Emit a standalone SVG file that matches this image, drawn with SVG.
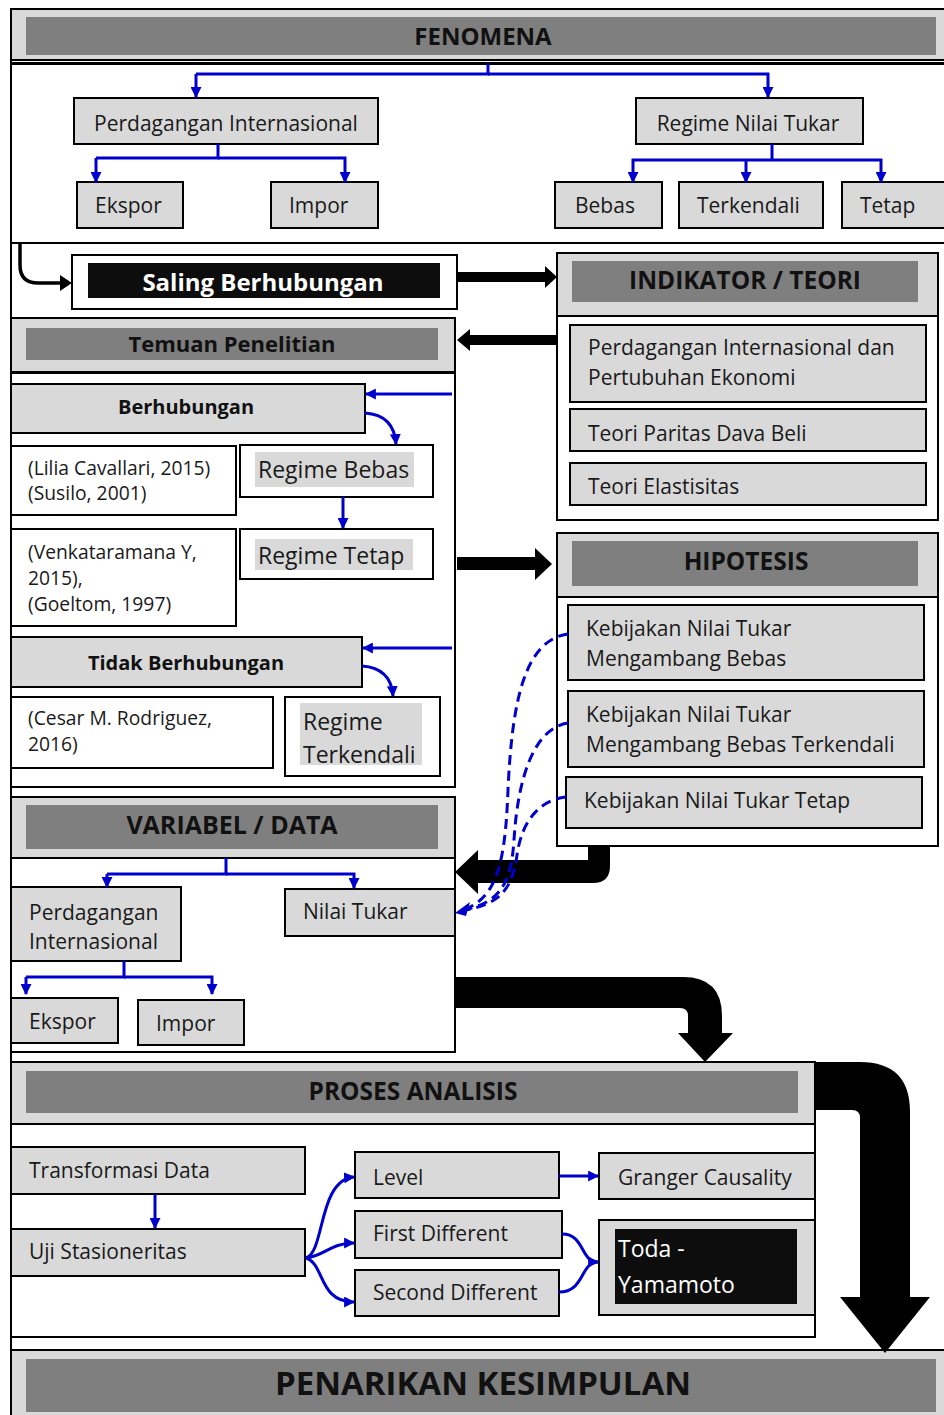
<svg xmlns="http://www.w3.org/2000/svg" width="944" height="1415" viewBox="0 0 944 1415">
<defs>
<style>
.hdr{fill:#d9d9d9;stroke:#000;stroke-width:2}
.bar{fill:#7f7f7f}
.body{fill:#fff;stroke:#000;stroke-width:2}
.box{fill:#d9d9d9;stroke:#000;stroke-width:2}
.wbox{fill:#fff;stroke:#000;stroke-width:2}
.hl{fill:#d9d9d9}
.t{font-family:"Open Sans","Noto Sans",sans-serif;font-size:21px;fill:#1a1a1a}
.c{font-family:"Open Sans","Noto Sans",sans-serif;font-size:19.3px;fill:#1a1a1a}
.big{font-family:"Open Sans","Noto Sans",sans-serif;font-size:23px;fill:#1a1a1a}
.ttl{font-family:"Open Sans","Noto Sans",sans-serif;font-size:24.5px;font-weight:bold;fill:#111;text-anchor:middle}
.sub{font-family:"Open Sans","Noto Sans",sans-serif;font-size:20px;font-weight:bold;fill:#111;text-anchor:middle}
.m{text-anchor:middle}
.bl{fill:none;stroke:#0000cc;stroke-width:3;marker-end:url(#ah)}
.bln{fill:none;stroke:#0000cc;stroke-width:3}
.dash{fill:none;stroke:#0000cc;stroke-width:3;stroke-dasharray:10 6}
.blk{fill:#000}
</style>
<marker id="ah" viewBox="0 0 10 10" refX="9" refY="5" markerWidth="11" markerHeight="11" markerUnits="userSpaceOnUse" orient="auto">
<path d="M0,0 L10,5 L0,10 z" fill="#0000cc"/>
</marker>
</defs>

<!-- main frame left border -->
<line x1="11" y1="9" x2="11" y2="1415" stroke="#000" stroke-width="2"/>

<g id="fenomena">
<rect class="hdr" x="11" y="9" width="940" height="51"/>
<rect class="bar" x="26" y="17" width="910" height="38"/>
<text class="ttl" x="483" y="45" style="font-size:24px">FENOMENA</text>
<line x1="11" y1="63" x2="944" y2="63" stroke="#000" stroke-width="2"/>
<rect class="body" x="11" y="64" width="940" height="179"/>
</g>

<g id="perdagangan">
<rect class="box" x="74" y="98" width="304" height="46"/>
<text class="t m" x="226" y="131">Perdagangan Internasional</text>
</g>
<g id="ekspor1"><rect class="box" x="77" y="182" width="106" height="46"/><text class="t" x="95" y="213">Ekspor</text></g>
<g id="impor1"><rect class="box" x="271" y="182" width="107" height="46"/><text class="t" x="289" y="213">Impor</text></g>
<g id="regime"><rect class="box" x="636" y="98" width="227" height="46"/><text class="t m" x="748" y="131">Regime Nilai Tukar</text></g>
<g id="bebas"><rect class="box" x="555" y="182" width="107" height="46"/><text class="t" x="575" y="213">Bebas</text></g>
<g id="terkendali"><rect class="box" x="679" y="182" width="144" height="46"/><text class="t" x="697" y="213">Terkendali</text></g>
<g id="tetap"><rect class="box" x="842" y="182" width="110" height="46"/><text class="t" x="860" y="213">Tetap</text></g>

<g id="saling">
<rect class="wbox" x="72" y="255" width="385" height="54"/>
<rect fill="#0d0d0d" x="88" y="263" width="352" height="35"/>
<text class="ttl" x="263" y="291" style="fill:#fff;font-size:24px">Saling Berhubungan</text>
</g>

<g id="indikator">
<rect class="hdr" x="557" y="253" width="381" height="63"/>
<rect class="bar" x="572" y="261" width="346" height="41"/>
<text class="ttl" x="745" y="289">INDIKATOR / TEORI</text>
<rect class="body" x="557" y="316" width="381" height="204"/>
</g>
<g id="teori1"><rect class="box" x="570" y="325" width="356" height="77"/>
<text class="t" x="588" y="355">Perdagangan Internasional dan</text>
<text class="t" x="588" y="385">Pertubuhan Ekonomi</text></g>
<g id="teori2"><rect class="box" x="570" y="409" width="356" height="42"/><text class="t" x="588" y="441">Teori Paritas Dava Beli</text></g>
<g id="teori3"><rect class="box" x="570" y="463" width="356" height="42"/><text class="t" x="588" y="494">Teori Elastisitas</text></g>

<g id="temuan">
<rect class="hdr" x="11" y="318" width="444" height="54"/>
<rect class="bar" x="26" y="328" width="412" height="32"/>
<text class="ttl" x="232" y="352" style="font-size:22px">Temuan Penelitian</text>
<rect class="body" x="11" y="373" width="444" height="414"/>
</g>
<g id="berhubungan"><rect class="box" x="11" y="384" width="354" height="49"/><text class="sub" x="186" y="414">Berhubungan</text></g>
<g id="cit1"><rect class="wbox" x="11" y="446" width="225" height="69"/>
<text class="c" x="28" y="475">(Lilia Cavallari, 2015)</text>
<text class="c" x="28" y="500">(Susilo, 2001)</text></g>
<g id="regimebebas"><rect class="wbox" x="240" y="445" width="193" height="52"/><rect class="hl" x="255" y="452" width="159" height="35"/><text class="big" x="258" y="478">Regime Bebas</text></g>
<g id="cit2"><rect class="wbox" x="11" y="529" width="225" height="97"/>
<text class="c" x="28" y="559">(Venkataramana Y,</text>
<text class="c" x="28" y="585">2015),</text>
<text class="c" x="28" y="611">(Goeltom, 1997)</text></g>
<g id="regimetetap"><rect class="wbox" x="240" y="529" width="193" height="50"/><rect class="hl" x="255" y="539" width="158" height="31"/><text class="big" x="258" y="564">Regime Tetap</text></g>
<g id="tidak"><rect class="box" x="11" y="637" width="351" height="50"/><text class="sub" x="186" y="670">Tidak Berhubungan</text></g>
<g id="cit3"><rect class="wbox" x="11" y="697" width="262" height="71"/>
<text class="c" x="28" y="725">(Cesar M. Rodriguez,</text>
<text class="c" x="28" y="751">2016)</text></g>
<g id="regimeterkendali"><rect class="wbox" x="285" y="697" width="155" height="79"/><rect class="hl" x="300" y="703" width="122" height="62"/>
<text class="big" x="303" y="730">Regime</text><text class="big" x="303" y="763">Terkendali</text></g>

<g id="hipotesis">
<rect class="hdr" x="557" y="533" width="381" height="64"/>
<rect class="bar" x="572" y="541" width="346" height="45"/>
<text class="ttl" x="746" y="570">HIPOTESIS</text>
<rect class="body" x="557" y="597" width="381" height="249"/>
</g>
<g id="hip1"><rect class="box" x="568" y="605" width="356" height="75"/>
<text class="t" x="586" y="636">Kebijakan Nilai Tukar</text><text class="t" x="586" y="666">Mengambang Bebas</text></g>
<g id="hip2"><rect class="box" x="568" y="691" width="356" height="76"/>
<text class="t" x="586" y="722">Kebijakan Nilai Tukar</text><text class="t" x="586" y="752">Mengambang Bebas Terkendali</text></g>
<g id="hip3"><rect class="box" x="566" y="777" width="356" height="51"/>
<text class="t" x="584" y="808">Kebijakan Nilai Tukar Tetap</text></g>

<g id="variabel">
<rect class="hdr" x="11" y="797" width="444" height="61"/>
<rect class="bar" x="26" y="805" width="412" height="44"/>
<text class="ttl" x="232" y="834" style="font-size:25px">VARIABEL / DATA</text>
<rect class="body" x="11" y="858" width="444" height="194"/>
</g>
<g id="var-perdagangan"><rect class="box" x="11" y="887" width="170" height="74"/>
<text class="t" x="29" y="920">Perdagangan</text><text class="t" x="29" y="949">Internasional</text></g>
<g id="var-nilai"><rect class="box" x="285" y="889" width="170" height="47"/><text class="t" x="303" y="919">Nilai Tukar</text></g>
<g id="var-ekspor"><rect class="box" x="11" y="998" width="107" height="45"/><text class="t" x="29" y="1029">Ekspor</text></g>
<g id="var-impor"><rect class="box" x="138" y="1000" width="106" height="45"/><text class="t" x="156" y="1031">Impor</text></g>

<g id="proses">
<rect class="hdr" x="11" y="1062" width="804" height="62"/>
<rect class="bar" x="26" y="1071" width="772" height="42"/>
<text class="ttl" x="413" y="1100">PROSES ANALISIS</text>
<rect class="body" x="11" y="1124" width="804" height="213"/>
</g>
<g id="transformasi"><rect class="box" x="11" y="1147" width="294" height="47"/><text class="t" x="29" y="1178">Transformasi Data</text></g>
<g id="uji"><rect class="box" x="11" y="1229" width="294" height="47"/><text class="t" x="29" y="1259">Uji Stasioneritas</text></g>
<g id="level"><rect class="box" x="355" y="1152" width="204" height="46"/><text class="t" x="373" y="1185">Level</text></g>
<g id="first"><rect class="box" x="355" y="1211" width="207" height="47"/><text class="t" x="373" y="1241">First Different</text></g>
<g id="second"><rect class="box" x="355" y="1270" width="204" height="46"/><text class="t" x="373" y="1300">Second Different</text></g>
<g id="granger"><rect class="box" x="599" y="1153" width="216" height="46"/><text class="t" x="618" y="1185">Granger Causality</text></g>
<g id="toda"><rect class="box" x="599" y="1220" width="216" height="95"/><rect fill="#0d0d0d" x="615" y="1229" width="182" height="75"/>
<text class="big" x="618" y="1257" style="fill:#fff">Toda -</text><text class="big" x="618" y="1293" style="fill:#fff">Yamamoto</text></g>

<g id="penarikan">
<rect class="hdr" x="11" y="1350" width="940" height="70"/>
<rect class="bar" x="26" y="1359" width="910" height="53"/>
<text class="ttl" x="483" y="1395" style="font-size:33px">PENARIKAN KESIMPULAN</text>
</g>

<g id="connectors">
<!-- fenomena tree -->
<path class="bln" d="M488,63 V74 H196"/>
<path class="bl" d="M196,74 V97"/>
<path class="bl" d="M488,74 H768 V97"/>
<path class="bln" d="M218,144 V158 H96"/>
<path class="bl" d="M96,158 V182"/>
<path class="bl" d="M218,158 H345 V182"/>
<path class="bln" d="M772,144 V160"/>
<path class="bl" d="M772,160 H633 V182"/>
<path class="bl" d="M746,160 V182"/>
<path class="bl" d="M772,160 H881 V182"/>
<!-- black curved arrow into Saling -->
<path d="M20,243 V265 Q20,283 38,283 H62" fill="none" stroke="#000" stroke-width="3.5"/>
<path d="M60,275 L72,283 L60,291 z" fill="#000"/>
<!-- thick arrows -->
<polygon class="blk" points="457,272 545,272 545,266 557,277 545,288 545,282 457,282"/>
<polygon class="blk" points="557,335 470,335 470,329 457,340 470,351 470,345 557,345"/>
<polygon class="blk" points="457,557 535,557 535,548 552,564 535,580 535,570 457,570"/>
<path class="blk" d="M588,846 H610 V866 Q610,883 593,883 H478 V894 L455,872 L478,850 V860 H588 Z"/>
<path class="blk" d="M455,977 H683 Q722,977 722,1016 V1033 H733 L705,1062 L678,1033 H688 V1016 Q688,1008 680,1008 H455 Z"/>
<path class="blk" d="M815,1062 H860 Q910,1062 910,1112 V1297 H930 L885,1353 L840,1297 H860 V1118 Q860,1110 852,1110 H815 Z"/>
<!-- temuan blue -->
<path class="bl" d="M452,394 H366"/>
<path class="bl" d="M365,413 Q394,415 396,444"/>
<path class="bl" d="M343,497 V528"/>
<path class="bl" d="M452,648 H363"/>
<path class="bl" d="M362,666 Q391,668 393,696"/>
<!-- hipotesis dashed -->
<path class="dash" d="M568,634 C525,640 512,700 508,790 C505,870 495,900 460,911"/>
<path class="dash" d="M568,723 C535,728 518,775 514,840 C511,885 500,903 460,911"/>
<path class="dash" d="M566,797 C540,800 522,820 517,855 C512,890 500,905 460,911"/>
<path d="M455,913 L470,902 L466,916 z" fill="#0000cc"/>
<!-- variabel tree -->
<path class="bln" d="M226,858 V874 H107"/>
<path class="bl" d="M107,874 V887"/>
<path class="bl" d="M226,874 H354 V888"/>
<path class="bln" d="M124,961 V977 H26"/>
<path class="bl" d="M26,977 V994"/>
<path class="bl" d="M124,977 H212 V994"/>
<!-- proses blue -->
<path class="bl" d="M155,1194 V1228"/>
<path class="bl" d="M306,1258 C325,1252 318,1180 354,1177"/>
<path class="bl" d="M306,1258 C325,1256 330,1243 354,1243"/>
<path class="bl" d="M306,1258 C325,1264 318,1302 354,1302"/>
<path class="bl" d="M559,1176 H598"/>
<path class="bln" d="M562,1234 C585,1234 580,1262 598,1262"/>
<path class="bl" d="M559,1292 C585,1292 580,1262 598,1262"/>
</g>
</svg>
